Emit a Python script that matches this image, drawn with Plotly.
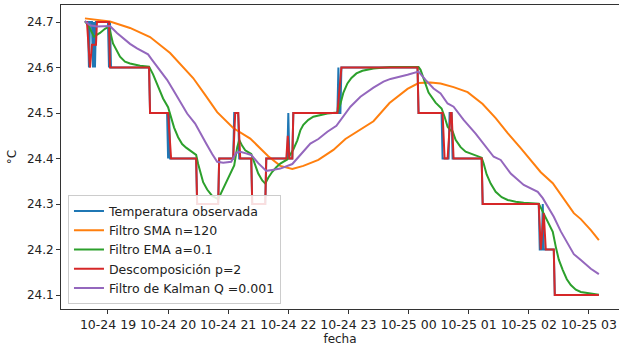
import pandas as pd
import plotly.graph_objects as go

# Time base: minutes after 2021-10-24 19:00
BASE = pd.Timestamp("2021-10-24 19:00")

obs_min = [-23, -20, -19, -18, -16, -15, -14, -13, -12, 0, 1, 2, 3, 41, 42, 59, 60, 61, 62, 88, 89,
           110, 111, 125, 126, 130, 131, 143, 144, 157, 158, 179, 180, 181, 184, 185, 229, 230, 231,
           232, 233, 309, 310, 333, 334, 340, 341, 343, 344, 373, 374, 430, 431, 433, 434, 435, 445,
           446, 490]
obs_val = [24.7, 24.7, 24.6, 24.7, 24.7, 24.6, 24.7, 24.6, 24.7, 24.7, 24.6, 24.7, 24.6, 24.6, 24.5,
           24.5, 24.4, 24.5, 24.4, 24.4, 24.3, 24.3, 24.4, 24.4, 24.5, 24.5, 24.4, 24.4, 24.3, 24.3,
           24.4, 24.4, 24.5, 24.4, 24.4, 24.5, 24.5, 24.6, 24.5, 24.5, 24.6, 24.6, 24.5, 24.5, 24.4,
           24.4, 24.5, 24.5, 24.4, 24.4, 24.3, 24.3, 24.2, 24.2, 24.3, 24.2, 24.2, 24.1, 24.1]

sma_min = [-23, -8, 2, 22, 42, 62, 85, 97, 109, 125, 142, 160, 172, 184, 195, 210, 225, 237, 252,
           265, 281, 299, 310, 322, 332, 345, 359, 374, 387, 399, 412, 425, 432, 444, 455, 465, 472,
           482, 490]
sma_val = [24.708, 24.703, 24.701, 24.687, 24.667, 24.632, 24.577, 24.540, 24.502, 24.467, 24.444,
           24.405, 24.384, 24.377, 24.384, 24.397, 24.419, 24.443, 24.463, 24.482, 24.522, 24.553,
           24.566, 24.567, 24.565, 24.557, 24.546, 24.520, 24.489, 24.456, 24.423, 24.390, 24.370,
           24.346, 24.311, 24.280, 24.267, 24.243, 24.221]

ema_min = [-23, -19, -14, -8, -3, 1, 5, 9, 12, 17, 22, 32, 41, 45, 49, 55, 60, 63, 66, 70, 74, 78,
           82, 88, 90, 92, 95, 99, 104, 110, 114, 118, 122, 126, 129, 131, 134, 137, 143, 146, 150,
           154, 157, 160, 164, 168, 172, 179, 181, 185, 189, 192, 195, 200, 205, 212, 219, 229, 232,
           235, 239, 243, 248, 254, 265, 282, 310, 312, 315, 320, 327, 333, 336, 339, 342, 344, 347,
           352, 357, 365, 373, 375, 378, 382, 387, 393, 399, 407, 415, 430, 433, 437, 440, 444, 447,
           450, 454, 458, 462, 467, 472, 482, 490]
ema_val = [24.702, 24.690, 24.668, 24.676, 24.685, 24.690, 24.653, 24.635, 24.624, 24.613, 24.609,
           24.604, 24.602, 24.585, 24.565, 24.532, 24.513, 24.490, 24.468, 24.447, 24.432, 24.424,
           24.418, 24.408, 24.388, 24.370, 24.348, 24.332, 24.318, 24.311, 24.330, 24.350, 24.368,
           24.385, 24.425, 24.441, 24.428, 24.418, 24.410, 24.390, 24.367, 24.352, 24.345, 24.358,
           24.371, 24.381, 24.389, 24.398, 24.405, 24.420, 24.440, 24.462, 24.474, 24.485, 24.492,
           24.496, 24.499, 24.501, 24.520, 24.545, 24.565, 24.577, 24.587, 24.593, 24.598, 24.601,
           24.601, 24.595, 24.575, 24.545, 24.523, 24.510, 24.492, 24.470, 24.462, 24.460, 24.441,
           24.425, 24.415, 24.408, 24.402, 24.389, 24.365, 24.345, 24.327, 24.315, 24.309, 24.305,
           24.303, 24.301, 24.288, 24.269, 24.255, 24.239, 24.206, 24.178, 24.155, 24.135, 24.122,
           24.112, 24.107, 24.103, 24.101]

dec_min = [-23, -21, -18, -16, -12, -11, 1, 2, 41, 42, 60, 63, 88, 89, 110, 111, 125, 127, 130, 132,
           143, 144, 157, 158, 178, 179.5, 181, 184, 185, 229, 231, 233, 309, 310, 334, 336, 339,
           342, 343, 345, 373, 374, 430, 432, 435, 437, 445, 446, 490]
dec_val = [24.7, 24.7, 24.6, 24.65, 24.65, 24.7, 24.7, 24.6, 24.6, 24.5, 24.5, 24.4, 24.4, 24.3,
           24.3, 24.4, 24.4, 24.5, 24.5, 24.4, 24.4, 24.3, 24.3, 24.4, 24.4, 24.45, 24.4, 24.4, 24.5,
           24.5, 24.55, 24.6, 24.6, 24.5, 24.5, 24.4, 24.4, 24.5, 24.5, 24.4, 24.4, 24.3, 24.3, 24.2,
           24.28, 24.2, 24.2, 24.1, 24.1]

kal_min = [-23, -18, -11, 2, 9, 15, 22, 29, 40, 44, 49, 54, 59, 65, 72, 79, 87, 93, 98, 104, 109,
           115, 123, 128, 132, 137, 143, 150, 158, 164, 172, 184, 189, 194, 202, 210, 219, 228, 237,
           242, 252, 265, 275, 282, 299, 310, 317, 325, 332, 339, 345, 355, 367, 377, 385, 392, 402,
           415, 429, 434, 445, 452, 459, 465, 472, 482, 490]
kal_val = [24.702, 24.693, 24.690, 24.691, 24.676, 24.664, 24.652, 24.642, 24.629, 24.617, 24.602,
           24.588, 24.573, 24.551, 24.525, 24.499, 24.477, 24.452, 24.433, 24.410, 24.393, 24.391,
           24.393, 24.413, 24.415, 24.412, 24.408, 24.390, 24.373, 24.375, 24.378, 24.388, 24.400,
           24.413, 24.433, 24.443, 24.459, 24.472, 24.499, 24.514, 24.536, 24.556, 24.569, 24.575,
           24.584, 24.591, 24.573, 24.554, 24.543, 24.521, 24.514, 24.485, 24.455, 24.426, 24.404,
           24.397, 24.367, 24.342, 24.327, 24.313, 24.272, 24.240, 24.214, 24.190, 24.177, 24.158,
           24.146]

series = [
    ("Temperatura observada", obs_min, obs_val, "#1f77b4"),
    ("Filtro SMA n=120", sma_min, sma_val, "#ff7f0e"),
    ("Filtro EMA a=0.1", ema_min, ema_val, "#2ca02c"),
    ("Descomposición p=2", dec_min, dec_val, "#d62728"),
    ("Filtro de Kalman Q =0.001", kal_min, kal_val, "#9467bd"),
]

def to_time(mins):
    return BASE + pd.to_timedelta(mins, unit="min")

fig = go.Figure()
for name, mins, vals, color in series:
    fig.add_trace(go.Scatter(x=to_time(mins), y=vals, mode="lines", name=name,
                             line=dict(color=color, width=2)))

font = dict(family="DejaVu Sans", size=12, color="#222222")
fig.update_layout(
    width=619, height=347, autosize=False,
    margin=dict(l=61, r=0, t=5, b=38),
    paper_bgcolor="white", plot_bgcolor="white",
    font=font,
    showlegend=True,
    legend=dict(x=0.0125, y=0.015, xanchor="left", yanchor="bottom",
                bgcolor="rgba(255,255,255,0.85)", bordercolor="#cccccc", borderwidth=1,
                font=dict(family="DejaVu Sans", size=12.5, color="#222222"),
                tracegroupgap=0),
    xaxis=dict(
        range=[to_time(-46.9), to_time(510.1)],
        tickformat="%m-%d %H", dtick=3600000, tick0=to_time(0),
        ticks="outside", ticklen=4, tickcolor="#333333",
        showline=True, linecolor="#333333", linewidth=1, mirror=True,
        showgrid=False, zeroline=False,
        tickfont=dict(family="DejaVu Sans", size=12.5, color="#222222"),
        title=dict(text="fecha", standoff=3, font=font),
    ),
    yaxis=dict(
        range=[24.0695, 24.7374],
        tickvals=[24.1, 24.2, 24.3, 24.4, 24.5, 24.6, 24.7],
        ticktext=["24.1", "24.2", "24.3", "24.4", "24.5", "24.6", "24.7"],
        ticks="outside", ticklen=4, tickcolor="#333333",
        showline=True, linecolor="#333333", linewidth=1, mirror=False,
        showgrid=False, zeroline=False,
        tickfont=dict(family="DejaVu Sans", size=12, color="#222222"),
        title=dict(text="°C", standoff=7, font=font),
    ),
)

fig.write_html("out.html")
